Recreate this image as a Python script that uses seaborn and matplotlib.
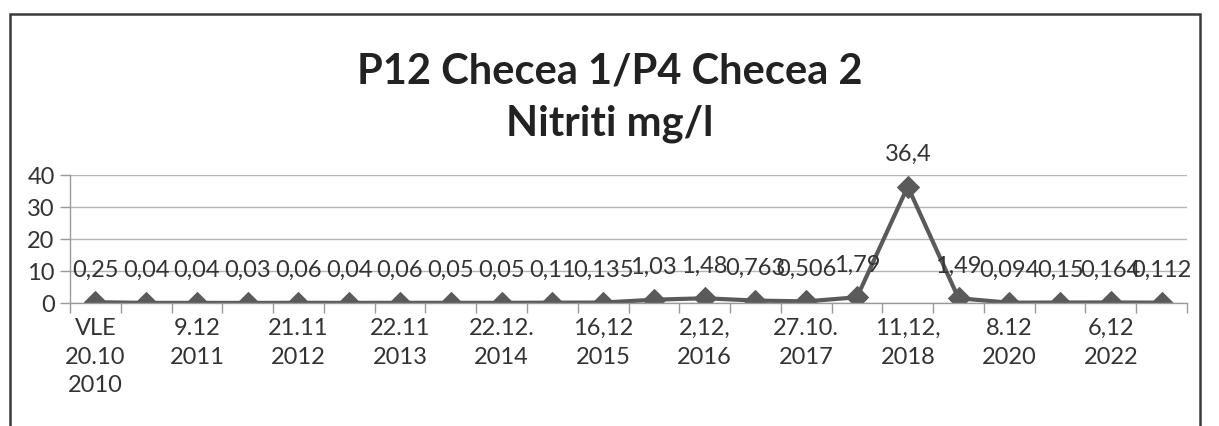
import numpy as np
import pandas as pd
import matplotlib
matplotlib.use("Agg")
import matplotlib.pyplot as plt
import matplotlib.patches as mpatches
import seaborn as sns

# Sampling dates (only every second one is labelled on the axis)
tick_labels = ["VLE\n20.10\n2010", "9.12\n2011", "21.11\n2012", "22.11\n2013",
               "22.12.\n2014", "16,12\n2015", "2,12,\n2016", "27.10.\n2017",
               "11,12,\n2018", "8.12\n2020", "6,12\n2022"]

# Nitrite concentration, mg/l
nitrite = [0.25, 0.04, 0.04, 0.03, 0.06, 0.04, 0.06, 0.05, 0.05, 0.11, 0.135,
           1.03, 1.48, 0.763, 0.506, 1.79, 36.4, 1.49, 0.094, 0.15, 0.164, 0.112]

y_ticks = [0, 10, 20, 30, 40]

df = pd.DataFrame({"idx": np.arange(len(nitrite)), "val": nitrite})

sns.set_theme(style="white")
plt.rcParams["font.family"] = ["Lato", "DejaVu Sans"]

W, H = 1219, 427
fig = plt.figure(figsize=(W / 100, H / 100), dpi=100)
fig.patch.set_facecolor("white")

# Outer chart frame
frame = mpatches.Rectangle((10 / W, -0.05), (1200 - 10) / W, 1.05 - 15 / H,
                           transform=fig.transFigure, fill=False,
                           edgecolor="#3a3a3a", linewidth=1.8)
fig.add_artist(frame)

ax = fig.add_axes([70 / W, 1 - 304 / H, (1187 - 70) / W, (304 - 176) / H])

line_col = "#5a5a5a"
sns.lineplot(data=df, x="idx", y="val", ax=ax, color=line_col, linewidth=3,
             marker="D", markersize=11.5, markeredgecolor=line_col,
             markerfacecolor=line_col)

txt_col = "#333333"
fs = 17
n = len(nitrite)
ax.set_xlim(-0.5, n - 0.5)
ax.set_ylim(0, 40)
ax.set_yticks(y_ticks)
ax.set_yticklabels([str(t) for t in y_ticks], fontsize=fs, color=txt_col)
ax.set_xticks(np.arange(0, n, 2))
ax.set_xticklabels(tick_labels, fontsize=fs, color=txt_col, linespacing=1.45,
                   va="top")
ax.set_xticks(np.arange(-0.5, n, 1), minor=True)
ax.tick_params(axis="x", which="major", length=0, pad=10)
ax.tick_params(axis="x", which="minor", length=7, width=1, color="#9a9a9a",
               direction="out", bottom=True)
ax.tick_params(axis="y", which="major", length=7, width=1, color="#9a9a9a",
               direction="out", left=True, pad=4)
ax.set_xlabel("")
ax.set_ylabel("")

ax.yaxis.grid(True, color="#b5b5b5", linewidth=1)
ax.xaxis.grid(False)
for side in ["top", "right"]:
    ax.spines[side].set_visible(False)
for side in ["left", "bottom"]:
    ax.spines[side].set_color("#9a9a9a")
    ax.spines[side].set_linewidth(1)

# Value labels above each point
for i, v in enumerate(nitrite):
    ax.annotate(str(v).replace(".", ","), (i, v), xytext=(0, 24),
                textcoords="offset points", ha="center", va="center",
                fontsize=fs, color=txt_col, annotation_clip=False)

fig.text(0.5, 1 - 72 / H, "P12 Checea 1/P4 Checea 2", ha="center",
         va="center", fontsize=30, fontweight="bold", color="#222222")
fig.text(0.5, 1 - 124 / H, "Nitriti mg/l", ha="center", va="center",
         fontsize=30, fontweight="bold", color="#222222")

fig.savefig("out.png", dpi=100, facecolor="white")
